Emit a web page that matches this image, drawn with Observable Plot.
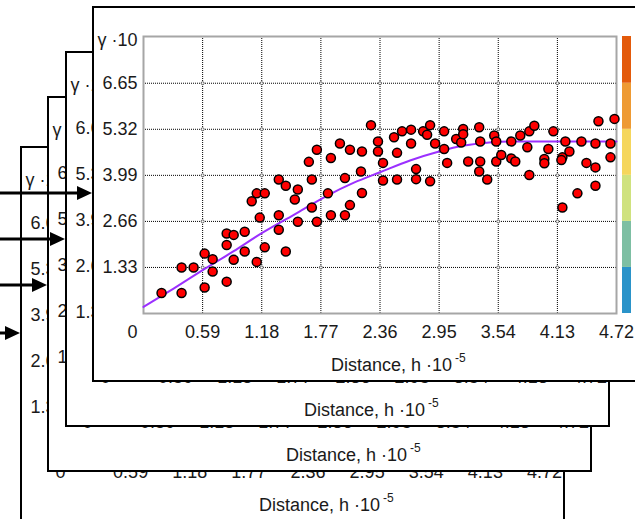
<!DOCTYPE html>
<html>
<head>
<meta charset="utf-8">
<script src="https://cdn.jsdelivr.net/npm/d3@7"></script>
<script src="https://cdn.jsdelivr.net/npm/@observablehq/plot@0.6"></script>
<style>
  html, body { margin: 0; padding: 0; background: #fff; }
  body { width: 635px; height: 519px; overflow: hidden; position: relative; font-family: "Liberation Sans", Arial, sans-serif; }
  .win { position: absolute; box-sizing: border-box; width: 545px; height: 376px; border: 2px solid #000; background: #fff; overflow: hidden; }
  .win > svg.main { position: absolute; left: 0; top: 0; margin: 0; }
  .win > svg.bar { position: absolute; left: 528px; top: 0; margin: 0; }
  #arrows { position: absolute; left: 0; top: 0; }
</style>
</head>
<body>
<script>
// ---- data ----
const xTickValues = [0.59, 1.18, 1.77, 2.36, 2.95, 3.54, 4.13, 4.72];
const xTickLabels = ["0.59", "1.18", "1.77", "2.36", "2.95", "3.54", "4.13", "4.72"];
const yTickValues = [1.33, 2.66, 3.99, 5.32, 6.65];
const yTickLabels = ["1.33", "2.66", "3.99", "5.32", "6.65"];
const yTopValue = 8;
const yTopLabel = "γ ·10";
const originLabel = "0";
const xTitle = "Distance, h ·10";
const xTitleExp = "-5";

// experimental semivariogram points (distance ·1e5, gamma ·10)
const distance = [
  2.27, 2.34, 2.34, 2.39, 2.39, 2.50, 2.53, 2.53, 2.58, 2.67, 2.67, 2.72, 2.72, 2.79, 2.83, 2.86, 2.86, 2.91,
  3.00, 3.00, 3.03, 3.12, 3.17, 3.19, 3.19, 3.24, 3.35, 3.35, 3.36, 3.36, 3.43, 3.50, 3.52, 3.52, 3.57, 3.67,
  3.67, 3.71, 3.76, 3.83, 3.85, 3.85, 3.90, 4.00, 4.00, 4.04, 4.09, 4.18, 4.17, 4.18, 4.21, 4.25, 4.33, 4.37,
  4.42, 4.51, 4.51, 4.51, 4.54, 4.66, 4.66, 4.70,
  1.08, 1.13, 1.21, 1.16, 1.35, 1.42, 1.35, 1.51, 1.54, 1.65, 1.68, 1.68, 1.73, 1.84, 1.87, 1.96, 2.01, 2.06,
  2.06, 2.17, 2.18, 2.18,
  0.18, 0.38, 0.38, 0.50, 0.61, 0.61, 0.69, 0.69, 0.83, 0.83, 0.83, 0.90, 0.90, 1.01, 1.01, 1.13, 1.21, 1.35,
  1.42, 1.54, 1.73, 1.87, 2.01
];
const gamma = [
  5.44, 4.97, 4.68, 4.35, 3.84, 5.09, 4.64, 3.87, 5.26, 5.31, 4.91, 4.17, 3.88, 5.26, 5.16, 5.44, 3.82, 4.91,
  5.26, 4.75, 4.35, 5.04, 4.94, 5.33, 5.18, 4.39, 5.38, 4.10, 4.97, 4.39, 3.87, 5.14, 4.97, 4.39, 4.58, 4.97,
  4.48, 4.39, 5.14, 4.80, 5.26, 4.00, 5.42, 4.46, 4.34, 4.75, 5.26, 4.51, 4.43, 3.06, 4.97, 4.68, 3.47, 4.97,
  4.35, 4.22, 3.69, 4.91, 5.55, 4.51, 4.91, 5.62,
  3.24, 3.47, 3.47, 2.77, 3.87, 3.69, 2.84, 3.29, 3.58, 4.38, 3.87, 3.06, 4.73, 3.47, 4.49, 4.91, 3.91, 4.73,
  3.13, 4.10, 4.68, 3.48,
  0.59, 0.59, 1.33, 1.33, 1.73, 0.75, 1.57, 1.21, 2.31, 1.98, 0.92, 2.27, 1.55, 2.36, 1.79, 1.49, 1.91, 2.42,
  1.79, 2.65, 2.65, 2.84, 2.84
];

// fitted model curve
const modelDistance = [0.00, 0.30, 0.59, 0.90, 1.18, 1.50, 1.83, 2.10, 2.36, 2.66, 2.95, 3.20, 3.45, 3.70, 4.13, 4.72];
const modelGamma    = [0.19, 0.72, 1.25, 1.80, 2.32, 2.85, 3.40, 3.78, 4.08, 4.42, 4.68, 4.85, 4.94, 4.97, 4.97, 4.97];

// colour bar bands
const bandLow  = [0, 1.33, 2.66, 3.99, 5.32, 6.65];
const bandHigh = [1.33, 2.66, 3.99, 5.32, 6.65, 8];
const bandColor = ["#2a93c9", "#7dbfa3", "#cfe27e", "#f5d65c", "#ee9a33", "#e35a0b"];

// ---- layout (not data) ----
const W = { width: 541, height: 372, mt: 28, mb: 67, ml: 49, mr: 19 };
const windows = [ [20, 146], [47, 96], [65, 51], [92, 6] ]; // back to front
const arrows = [ { y: 193, tip: 92 }, { y: 239, tip: 65 }, { y: 285, tip: 47 }, { y: 333, tip: 20 } ];

const points = distance.map((d, i) => ({ x: d, y: gamma[i] }));
const model = modelDistance.map((d, i) => ({ x: d, y: modelGamma[i] }));
const gridX = xTickValues.slice(0, -1);
const crossings = gridX.flatMap(x => yTickValues.map(y => ({ x, y })));
const bands = bandLow.map((lo, i) => ({ lo, hi: bandHigh[i], c: bandColor[i] }));
const xLab = new Map(xTickValues.map((v, i) => [v, xTickLabels[i]]));
const yLab = new Map(yTickValues.map((v, i) => [v, yTickLabels[i]]));
const FONT = "'Liberation Sans', Arial, sans-serif";

function chart() {
  const svg = Plot.plot({
    width: W.width, height: W.height,
    marginTop: W.mt, marginBottom: W.mb, marginLeft: W.ml, marginRight: W.mr,
    style: { fontFamily: FONT, fontSize: "18px", color: "#1a1a1a", background: "white", overflow: "visible" },
    x: { domain: [0, 4.72] },
    y: { domain: [0, 8] },
    marks: [
      Plot.gridX(gridX, { stroke: "#000", strokeOpacity: 1, strokeWidth: 1, strokeDasharray: "1,1" }),
      Plot.gridY(yTickValues, { stroke: "#000", strokeOpacity: 1, strokeWidth: 1, strokeDasharray: "1,1" }),
      Plot.dot(crossings, { x: "x", y: "y", r: 1.5, fill: "white", stroke: "#444", strokeWidth: 0.8 }),
      Plot.frame({ stroke: "#a6a6a6", strokeWidth: 2 }),
      Plot.axisX(xTickValues, { tickSize: 0, tickPadding: 12, tickFormat: d => xLab.get(d), label: null, fontSize: 18 }),
      Plot.axisY(yTickValues, { tickSize: 0, tickPadding: 6, tickFormat: d => yLab.get(d), label: null, fontSize: 18 }),
      Plot.text([0], { x: d => d, text: () => originLabel, frameAnchor: "bottom", lineAnchor: "top", dy: 12, dx: -11, fontSize: 18 }),
      Plot.text([yTopValue], { y: d => d, text: () => yTopLabel, frameAnchor: "left", textAnchor: "end", dx: -6, dy: 4, fontSize: 18 }),
      Plot.line(model, { x: "x", y: "y", stroke: "#9b30ff", strokeWidth: 2, curve: "monotone-x" }),
      Plot.dot(points, { x: "x", y: "y", r: 4.5, fill: "#ff0000", stroke: "#000", strokeWidth: 1.5 })
    ]
  });
  svg.classList.add("main");
  const t = d3.select(svg).append("text")
    .attr("x", 237).attr("y", 363).attr("text-anchor", "start")
    .attr("font-family", FONT).attr("font-size", 18).attr("fill", "#1a1a1a");
  t.append("tspan").text(xTitle);
  t.append("tspan").attr("dx", 3).attr("dy", -9).attr("font-size", 12).text(xTitleExp);
  return svg;
}

function colourBar() {
  const svg = Plot.plot({
    width: 9, height: W.height,
    marginTop: W.mt, marginBottom: W.mb, marginLeft: 0, marginRight: 0,
    style: { background: "transparent" },
    x: { axis: null },
    y: { domain: [0, 8], axis: null },
    color: { type: "identity" },
    marks: [ Plot.rect(bands, { y1: "lo", y2: "hi", fill: "c" }) ]
  });
  svg.classList.add("bar");
  return svg;
}

for (const [left, top] of windows) {
  const win = document.createElement("div");
  win.className = "win";
  win.style.left = left + "px";
  win.style.top = top + "px";
  win.appendChild(chart());
  win.appendChild(colourBar());
  document.body.appendChild(win);
}

// arrows pointing at each window
const ov = d3.select(document.body).append("svg").attr("id", "arrows").attr("width", 635).attr("height", 519);
for (const a of arrows) {
  ov.append("line").attr("x1", 0).attr("x2", a.tip - 12).attr("y1", a.y).attr("y2", a.y)
    .attr("stroke", "#000").attr("stroke-width", 3);
  ov.append("path").attr("d", `M${a.tip},${a.y} L${a.tip - 15},${a.y - 7} L${a.tip - 15},${a.y + 7} Z`).attr("fill", "#000");
}
</script>
</body>
</html>
